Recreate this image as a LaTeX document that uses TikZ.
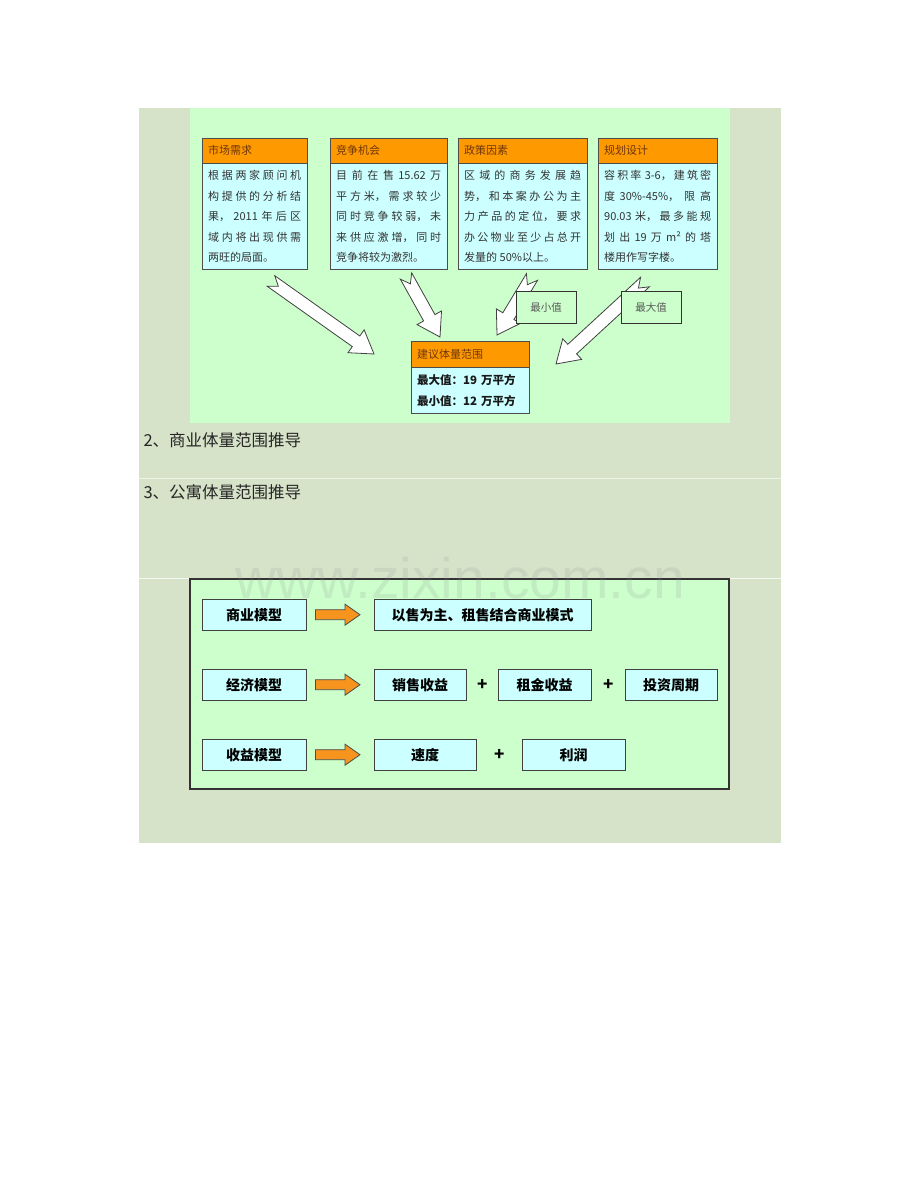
\documentclass[tikz,border=0pt]{standalone}
\usepackage{fontspec}
\setmainfont{Noto Sans CJK SC}
\newfontfamily\wmfont{Liberation Sans}
\usepackage{xcolor}
\usepackage{tikz}
\usetikzlibrary{positioning, calc}
\XeTeXlinebreaklocale "zh"
\XeTeXlinebreakskip = 0pt plus 3pt

\definecolor{panel}{RGB}{214,227,201}
\definecolor{lightgreen}{RGB}{204,255,204}
\definecolor{hdrorange}{RGB}{255,153,0}
\definecolor{lightcyan}{RGB}{204,255,255}
\definecolor{hdrtext}{RGB}{110,55,10}
\definecolor{arroworange}{RGB}{247,148,30}

% notched block arrow from tail to tip
\newcommand\notcharrow[2]{%
  \pgfpointdiff{\pgfpointanchor{#1}{center}}{\pgfpointanchor{#2}{center}}%
  \pgfgetlastxy\arx\ary
  \pgfmathsetmacro\arang{atan2(\ary,\arx)}%
  \pgfmathsetmacro\arlen{veclen(\arx,\ary)}%
  \begin{scope}[shift={(#1)}, rotate=\arang, x=1pt, y=1pt]
    \draw[whitearrow] (0,6.5) -- (\arlen-22,6.5) -- (\arlen-22,14) -- (\arlen,0)
      -- (\arlen-22,-14) -- (\arlen-22,-6.5) -- (0,-6.5) -- (9,0) -- cycle;
  \end{scope}}

% fat orange arrow between two boxes of a row
\newcommand\fatarrow[2]{%
  \draw[orangearrow] let \p1=($(#1.east)+(9,0)$), \p2=($(#2.west)+(-14,0)$) in
    (\x1,\y1+5pt) -- (\x2-15pt,\y1+5pt) -- (\x2-15pt,\y1+10.5pt) -- (\x2,\y1)
    -- (\x2-15pt,\y1-10.5pt) -- (\x2-15pt,\y1-5pt) -- (\x1,\y1-5pt) -- cycle;}

\begin{document}
\begin{tikzpicture}[x=1pt, y=-1pt,
    hdr/.style={draw=black!70, fill=hdrorange, text=hdrtext, anchor=north west,
      minimum height=25, inner xsep=6, text width=#1,
      font=\fontsize{11}{12}\selectfont},
    body/.style={draw=black!70, fill=lightcyan, text=black!80, minimum height=106,
      inner xsep=6, text width=#1, align=justify,
      font=\fontsize{11}{20.5}\selectfont},
    tag/.style={draw=black!80, fill=lightgreen, text=black!65, minimum width=60,
      minimum height=32, anchor=north west, font=\fontsize{10.5}{12}\selectfont},
    rbox/.style={draw=black!75, fill=lightcyan, minimum width=#1, minimum height=31,
      anchor=north west, font=\fontsize{14}{16}\selectfont\bfseries},
    plus/.style={font=\fontsize{17}{17}\selectfont\bfseries},
    whitearrow/.style={draw=black!75, fill=white, line width=0.8pt, line join=miter},
    orangearrow/.style={draw=black!70, fill=arroworange, line width=0.8pt},
  ]
    \useasboundingbox (0,0) rectangle (920,1191);
    \fill[white] (0,0) rectangle (920,1191);

    % page panel and the first picture
    \fill[panel] (139,108) rectangle (781,843);
    \draw[white!55!panel, line width=1pt] (139,478) -- (781,478);
    \draw[white!70!panel, line width=0.6pt] (139,578) -- (781,578);
    \fill[lightgreen] (190,108) rectangle (730,423);

    % four factor boxes
    \node[hdr=93pt] (h1) at (202,138) {市场需求};
    \node[body=93pt, below=0pt of h1] (b1) {根据两家顾问机\linebreak 构提供的分析结\linebreak 果，2011 年后区\linebreak 域内将出现供需\linebreak 两旺的局面。};
    \node[hdr=105pt] (h2) at (330,138) {竞争机会};
    \node[body=105pt, below=0pt of h2] (b2) {目前在售 15.62 万\linebreak 平方米，需求较少\linebreak 同时竞争较弱，未\linebreak 来供应激增，同时\linebreak 竞争将较为激烈。};
    \node[hdr=117pt] (h3) at (458,138) {政策因素};
    \node[body=117pt, below=0pt of h3] (b3) {区域的商务发展趋\linebreak 势，和本案办公为主\linebreak 力产品的定位，要求\linebreak 办公物业至少占总开\linebreak 发量的 50\%以上。};
    \node[hdr=107pt] (h4) at (598,138) {规划设计};
    \node[body=107pt, below=0pt of h4] (b4) {容积率 3-6，建筑密\linebreak 度 30\%-45\%，限高\linebreak 90.03 米，最多能规\linebreak 划出 19 万 m² 的塔\linebreak 楼用作写字楼。};

    % result box
    \node[hdr=106pt, minimum height=26] (h5) at (411,341) {建议体量范围};
    \node[body=106pt, minimum height=46, align=left, text=black!90,
      font=\fontsize{11.5}{21}\selectfont\bfseries, below=0pt of h5] (b5)
      {最大值：19 万平方\\最小值：12 万平方};

    % arrows into the result
    \coordinate (tail1) at (271,281); \coordinate (tip1) at (374,354);
    \coordinate (tail2) at (406,276); \coordinate (tip2) at (440,337);
    \coordinate (tail3) at (532,277); \coordinate (tip3) at (497,335);
    \coordinate (tail4) at (645,282); \coordinate (tip4) at (556,364);
    \notcharrow{tail1}{tip1}
    \notcharrow{tail2}{tip2}
    \notcharrow{tail3}{tip3}
    \notcharrow{tail4}{tip4}
    \node[tag] (vmin) at (516,291) {最小值};
    \node[tag] (vmax) at (621,291) {最大值};

    % section titles
    \node[anchor=west, text=black!85, font=\fontsize{16.5}{18}\selectfont] (sec2) at (140,440) {2、商业体量范围推导};
    \node[anchor=west, text=black!85, font=\fontsize{16.5}{18}\selectfont] (sec3) at (140,492) {3、公寓体量范围推导};

    % second picture: models
    \draw[draw=black!80, fill=lightgreen, line width=1.2pt] (190,579) rectangle (729,789);
    \node[rbox=104] (m1) at (202,599) {商业模型};
    \node[rbox=217] (r1) at (374,599) {以售为主、租售结合商业模式};
    \node[rbox=104] (m2) at (202,669) {经济模型};
    \node[rbox=92] (r2a) at (374,669) {销售收益};
    \node[rbox=93] (r2b) at (498,669) {租金收益};
    \node[rbox=92] (r2c) at (625,669) {投资周期};
    \node[rbox=104] (m3) at (202,739) {收益模型};
    \node[rbox=102] (r3a) at (374,739) {速度};
    \node[rbox=103] (r3b) at (522,739) {利润};
    \fatarrow{m1}{r1}
    \fatarrow{m2}{r2a}
    \fatarrow{m3}{r3a}
    \node[plus] (pl1) at ($(r2a.east)!0.5!(r2b.west)$) {+};
    \node[plus] (pl2) at ($(r2b.east)!0.5!(r2c.west)$) {+};
    \node[plus] (pl3) at ($(r3a.east)!0.5!(r3b.west)$) {+};

    % watermark
    \node[anchor=base, text=black!45, opacity=0.16,
      font=\wmfont\fontsize{57}{57}\selectfont] (wm) at (460,598) {www.zixin.com.cn};
\end{tikzpicture}
\end{document}
